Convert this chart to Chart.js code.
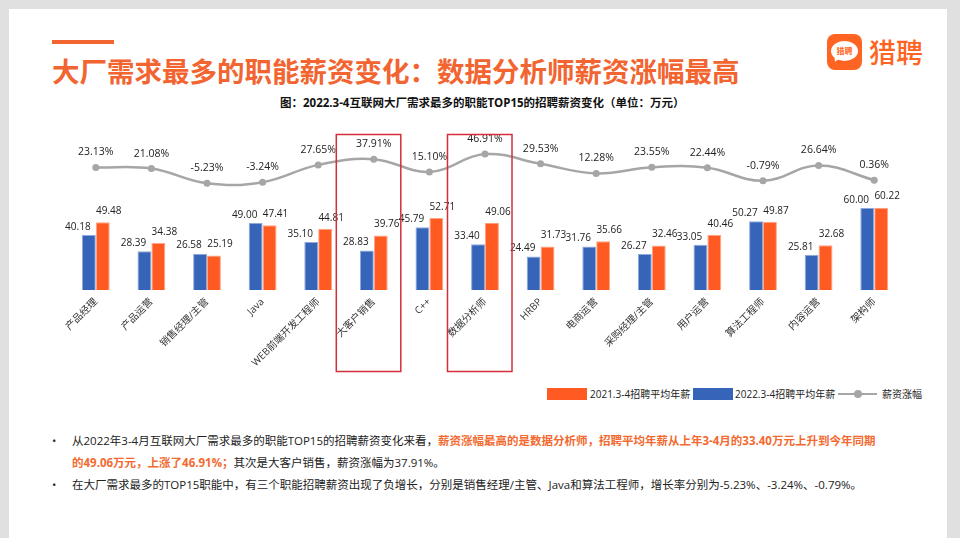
<!DOCTYPE html>
<html>
<head>
<meta charset="utf-8">
<script src="https://cdn.jsdelivr.net/npm/chart.js@4.4.1/dist/chart.umd.min.js"></script>
<style>
body{margin:0;width:960px;height:538px;overflow:hidden;background:#e0e0e0;font-family:'Open Sans','Noto Sans CJK SC',sans-serif;position:relative;}
#card{position:absolute;left:9px;top:9px;width:938px;height:529px;background:#fff;}
#accent{position:absolute;left:52px;top:40px;width:62px;height:4px;background:#f26430;}
#title{position:absolute;left:52px;top:56px;font-size:27.5px;line-height:28px;font-weight:700;color:#f26430;font-family:'Noto Sans CJK SC',sans-serif;white-space:nowrap;}
#logo{position:absolute;left:827px;top:34px;width:35px;height:36px;border-radius:8px;background:#ff6422;}
#bubble{position:absolute;left:4px;top:7px;width:27px;height:20px;border-radius:50%;background:#fff;color:#ff6422;font-size:8px;font-weight:700;line-height:20px;text-align:center;font-family:'Noto Sans CJK SC',sans-serif;}
#tail{position:absolute;left:6px;top:22px;width:0;height:0;border-left:3px solid transparent;border-right:4px solid transparent;border-top:6px solid #fff;transform:rotate(20deg);}
#logotext{position:absolute;left:869px;top:37px;font-size:27px;line-height:30px;color:#ff6422;font-family:'Noto Sans CJK SC',sans-serif;font-weight:500;}
#ctitle{position:absolute;left:280px;top:96px;font-size:11.5px;line-height:14px;font-weight:700;color:#111;white-space:nowrap;}
canvas{position:absolute;left:0;top:110px;}
#legend{position:absolute;left:547px;top:387px;height:14px;font-size:10px;line-height:14px;color:#222;white-space:nowrap;}
#legend span{position:absolute;top:0;}
.box{display:inline-block;width:40px;height:12px;top:1px !important;}
#bullets{position:absolute;left:52px;top:430px;font-size:11.5px;line-height:22px;color:#222;white-space:nowrap;}
#bullets div{position:relative;padding-left:20px;}
#bullets .dot{position:absolute;left:0;top:0;}
.hl{color:#f26a30;font-weight:700;}
</style>
</head>
<body>
<div id="card"></div>
<div id="accent"></div>
<div id="title">大厂需求最多的职能薪资变化：数据分析师薪资涨幅最高</div>
<div id="logo"><div id="tail"></div><div id="bubble">猎聘</div></div>
<div id="logotext">猎聘</div>
<div id="ctitle">图：2022.3-4互联网大厂需求最多的职能TOP15的招聘薪资变化（单位：万元）</div>
<canvas id="chart" width="960" height="270"></canvas>
<div id="legend">
  <span class="box" style="left:0;background:#ff5a22;"></span>
  <span style="left:43px;">2021.3-4招聘平均年薪</span>
  <span class="box" style="left:146px;background:#3564b8;"></span>
  <span style="left:188px;">2022.3-4招聘平均年薪</span>
  <span style="left:291px;top:6px !important;width:39px;height:2px;background:#a6a6a6;"></span>
  <span style="left:307px;top:3px !important;width:8px;height:8px;border-radius:50%;background:#a6a6a6;"></span>
  <span style="left:335px;">薪资涨幅</span>
</div>
<div id="bullets">
  <div><span class="dot">•</span>从2022年3-4月互联网大厂需求最多的职能TOP15的招聘薪资变化来看，<span class="hl">薪资涨幅最高的是数据分析师，招聘平均年薪从上年3-4月的33.40万元上升到今年同期</span><br><span class="hl">的49.06万元，上涨了46.91%；</span>其次是大客户销售，薪资涨幅为37.91%。</div>
  <div><span class="dot">•</span>在大厂需求最多的TOP15职能中，有三个职能招聘薪资出现了负增长，分别是销售经理/主管、Java和算法工程师，增长率分别为-5.23%、-3.24%、-0.79%。</div>
</div>
<script>
// 数据
const categories = ['产品经理','产品运营','销售经理/主管','Java','WEB前端开发工程师','大客户销售','C++','数据分析师','HRBP','电商运营','采购经理/主管','用户运营','算法工程师','内容运营','架构师'];
const salary2021 = [40.18,28.39,26.58,49.00,35.10,28.83,45.79,33.40,24.49,31.76,26.27,33.05,50.27,25.81,60.00];
const salary2022 = [49.48,34.38,25.19,47.41,44.81,39.76,52.71,49.06,31.73,35.66,32.46,40.46,49.87,32.68,60.22];
const growth = [23.13,21.08,-5.23,-3.24,27.65,37.91,15.10,46.91,29.53,12.28,23.55,22.44,-0.79,26.64,0.36];
const highlighted = [5,7];

const blue = '#3564b8';
const orange = '#ff5a22';
const grey = '#a6a6a6';

// 数据标签 + 红框
const labelPlugin = {
  id: 'labels',
  afterDatasetsDraw(chart){
    const ctx = chart.ctx;
    ctx.save();
    ctx.fillStyle = '#222';
    ctx.font = '10px "Open Sans", "Noto Sans CJK SC"';
    ctx.textAlign = 'center';
    ctx.textBaseline = 'middle';
    chart.getDatasetMeta(0).data.forEach((el, i) => {
      ctx.fillText(salary2021[i].toFixed(2), el.x - 11, el.y - 8);
    });
    chart.getDatasetMeta(1).data.forEach((el, i) => {
      ctx.fillText(salary2022[i].toFixed(2), el.x + 6, el.y - 11);
    });
    ctx.font = '10.5px "Open Sans", "Noto Sans CJK SC"';
    chart.getDatasetMeta(2).data.forEach((el, i) => {
      ctx.fillText(growth[i].toFixed(2) + '%', el.x, el.y - 15);
    });
    ctx.restore();
  },
  afterDraw(chart){
    const ctx = chart.ctx;
    const x = chart.scales.x;
    const top = chart.canvas.offsetTop;
    ctx.save();
    ctx.strokeStyle = '#d32f3a';
    ctx.lineWidth = 1.5;
    highlighted.forEach(i => {
      const cx = x.getPixelForValue(i);
      ctx.strokeRect(cx - 37.5, 134.5 - top, 64.5, 237);
    });
    ctx.restore();
  }
};

new Chart(document.getElementById('chart'), {
  type: 'bar',
  data: {
    labels: categories,
    datasets: [
      {label:'2022.3-4招聘平均年薪', data:salary2021, backgroundColor:blue, borderColor:'#8fa9dc', borderWidth:1, yAxisID:'y', order:2},
      {label:'2021.3-4招聘平均年薪', data:salary2022, backgroundColor:orange, borderColor:'#ffa585', borderWidth:1, yAxisID:'y', order:2},
      {type:'line', label:'薪资涨幅', data:growth, borderColor:grey, backgroundColor:grey, borderWidth:2.5,
       pointRadius:3.5, pointBackgroundColor:grey, pointBorderWidth:0, tension:0.4, yAxisID:'y2', order:1}
    ]
  },
  options: {
    responsive:false,
    animation:false,
    devicePixelRatio:1,
    layout:{padding:{left:68, right:58, top:10, bottom:0}},
    plugins:{legend:{display:false}, tooltip:{enabled:false}},
    datasets:{bar:{categoryPercentage:0.5, barPercentage:1}},
    scales:{
      x:{
        grid:{display:false, drawTicks:false},
        border:{display:false},
        ticks:{color:'#333', font:{size:10, family:'"Open Sans", "Noto Sans CJK SC"'}, minRotation:45, maxRotation:45, padding:6, autoSkip:false},
        afterFit(s){ s.height = 90; s.paddingLeft = 0; s.paddingRight = 0; }
      },
      y:{display:false, min:0, max:124.3},
      y2:{display:false, min:-196, max:107.9}
    }
  },
  plugins:[labelPlugin]
});
</script>
</body>
</html>
